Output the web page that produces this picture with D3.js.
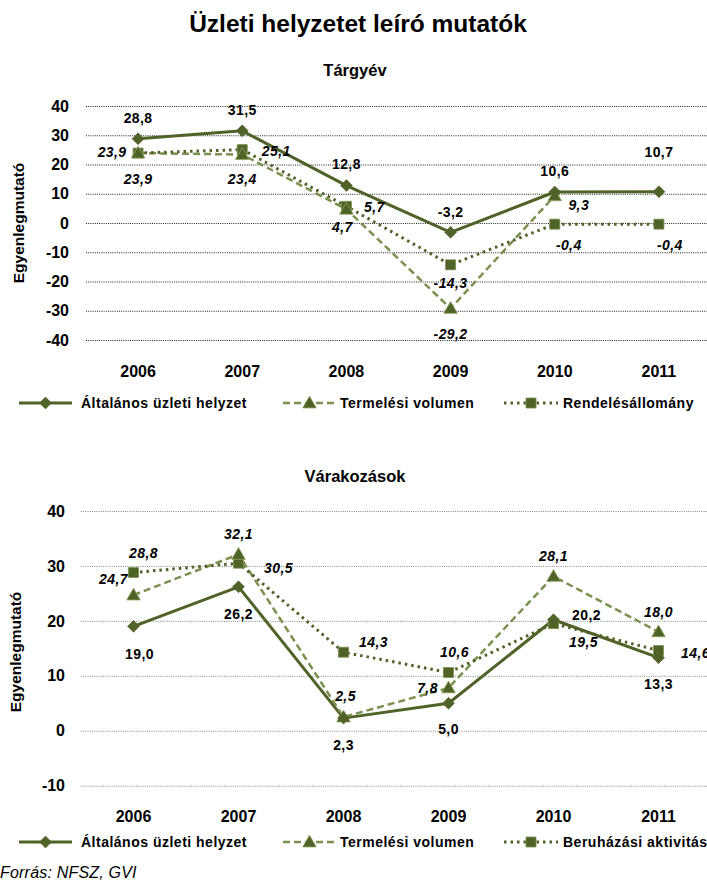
<!DOCTYPE html>
<html><head><meta charset="utf-8">
<script src="https://cdn.jsdelivr.net/npm/d3@7"></script>
<style>
body{margin:0;background:#fff;}
svg{display:block;font-family:"Liberation Sans",Arial,sans-serif;}
</style></head>
<body><svg id="c" width="707" height="881"></svg>
<script>
const years = ["2006","2007","2008","2009","2010","2011"];
const yTicksTop = [40,30,20,10,0,-10,-20,-30,-40];
const yTicksBottom = [40,30,20,10,0,-10];

// Tárgyév
const topGeneral = [28.8, 31.5, 12.8, -3.2, 10.6, 10.7];
const topProduction = [23.9, 23.4, 4.7, -29.2, 9.3, null];
const topOrders = [23.9, 25.1, 5.7, -14.3, -0.4, -0.4];

// Várakozások
const botGeneral = [19.0, 26.2, 2.3, 5.0, 20.2, 13.3];
const botProduction = [24.7, 32.1, 2.5, 7.8, 28.1, 18.0];
const botInvestment = [28.8, 30.5, 14.3, 10.6, 19.5, 14.6];

const seriesNamesTop = ["Általános üzleti helyzet","Termelési volumen","Rendelésállomány"];
const seriesNamesBottom = ["Általános üzleti helyzet","Termelési volumen","Beruházási aktivitás"];

// label offsets (layout only)
const offTop = [
  [[0,-21],[0,-21],[0,-21],[0,-20],[0,-21],[0,-40]],
  [[0,26],[0,25],[-4,18],[0,26],[24,9],[0,0]],
  [[-26,-1],[34,2],[28,1],[0,18],[14,21],[11,21]]
];
const offBot = [
  [[6,28],[0,27],[0,27],[0,26],[33,-5],[0,26]],
  [[-20,-16],[0,-20],[2,-21],[-21,0],[0,-20],[0,-20]],
  [[10,-19],[40,5],[30,-10],[6,-20],[30,18],[37,3]]
];

const DARK = "#4F6228";
const LIGHT = "#7B9150";
const styles = [
  {stroke:DARK, width:3, dash:null, sym:"diamond", italic:false},
  {stroke:LIGHT, width:2.5, dash:"7,4", sym:"triangle", italic:true},
  {stroke:DARK, width:3, dash:"2.5,4", sym:"square", italic:true}
];

const svg = d3.select("#c");
const fmt = v => d3.format(".1f")(v).replace(".", ",").replace("\u2212", "-");
const fmtTick = v => String(v);

function marker(g, type, x, y){
  if(type==="diamond"){
    g.append("path").attr("d", d3.symbol(d3.symbolSquare, 72)())
     .attr("transform",`translate(${x},${y}) rotate(45)`).attr("fill",DARK).attr("stroke",DARK).attr("stroke-width",0.5);
  } else if(type==="square"){
    g.append("path").attr("d", d3.symbol(d3.symbolSquare, 100)())
     .attr("transform",`translate(${x},${y})`).attr("fill",DARK).attr("stroke","#7B9150").attr("stroke-width",0.8);
  } else {
    g.append("path").attr("d", d3.symbol(d3.symbolTriangle, 80)())
     .attr("transform",`translate(${x},${y+1})`).attr("fill",DARK).attr("stroke","#8FA35F").attr("stroke-width",0.8);
  }
}

svg.append("text").attr("x",358).attr("y",32).attr("text-anchor","middle")
  .attr("font-size",24.5).attr("font-weight","bold").text("Üzleti helyzetet leíró mutatók");

function panel(o){
  const g = svg.append("g");
  const x = d3.scaleBand().domain(years).range([o.x0,o.x1]);
  const y = d3.scaleLinear().domain(o.ydom).range(o.yrange);
  g.append("text").attr("x",355).attr("y",o.subY).attr("text-anchor","middle")
   .attr("font-size",16.5).attr("font-weight","bold").text(o.sub);
  // y axis with grid
  const ya = g.append("g").attr("transform",`translate(${o.x0},0)`)
    .call(d3.axisLeft(y).tickValues(o.yticks).tickSize(-(o.x1-o.x0)).tickPadding(o.tickPad).tickFormat(fmtTick));
  ya.select(".domain").remove();
  ya.selectAll("line").attr("stroke",o.gridColor).attr("stroke-width",1).attr("stroke-dasharray","1,1.2");
  ya.selectAll("text").attr("font-size",16).attr("font-weight","bold").attr("fill","#000")
    .attr("font-family","Liberation Sans, Arial, sans-serif");
  // y title
  g.append("text").attr("transform",`translate(${o.titleX},${o.titleY}) rotate(-90)`)
   .attr("text-anchor","middle").attr("font-size",15.5).attr("font-weight","bold").text("Egyenlegmutató");
  // x axis
  const xa = g.append("g").attr("transform",`translate(0,${o.xAxisY})`)
    .call(d3.axisBottom(x).tickSize(0).tickPadding(0));
  xa.select(".domain").remove();
  xa.selectAll("text").attr("font-size",16).attr("font-weight","bold").attr("fill","#000")
    .attr("font-family","Liberation Sans, Arial, sans-serif");
  const cx = d => x(d)+x.bandwidth()/2;
  // series
  o.series.forEach((vals,si)=>{
    const st = styles[si];
    const line = d3.line().defined(d=>d.v!==null).x(d=>cx(d.k)).y(d=>y(d.v));
    const data = years.map((k,i)=>({k,v:vals[i]}));
    g.append("path").datum(data).attr("d",line).attr("fill","none")
     .attr("stroke",st.stroke).attr("stroke-width",st.width)
     .attr("stroke-dasharray",st.dash).attr("stroke-linejoin","round");
  });
  [2,1,0].forEach(si=>{
    const vals=o.series[si];
    years.forEach((k,i)=>{ if(vals[i]!==null) marker(g, styles[si].sym, cx(k), y(vals[i])); });
  });
  // labels
  o.series.forEach((vals,si)=>{
    years.forEach((k,i)=>{
      if(vals[i]===null) return;
      const [dx,dy]=o.offsets[si][i];
      g.append("text").attr("x",cx(k)+dx).attr("y",y(vals[i])+dy).attr("dy","0.35em")
       .attr("text-anchor","middle").attr("font-size",14).attr("font-weight","bold")
       .attr("letter-spacing",0.4)
       .attr("font-style",styles[si].italic?"italic":"normal").text(fmt(vals[i]));
    });
  });
  // legend
  const lx = [[19,72,81],[283,336,340],[504,558,563]];
  o.names.forEach((n,si)=>{
    const st=styles[si]; const [a,b,t]=lx[si];
    g.append("line").attr("x1",a).attr("x2",b).attr("y1",o.legY).attr("y2",o.legY)
     .attr("stroke",st.stroke).attr("stroke-width",st.width).attr("stroke-dasharray",st.dash);
    marker(g, st.sym, (a+b)/2, o.legY);
    g.append("text").attr("x",t).attr("y",o.legY).attr("dy","0.35em").attr("font-size",14)
     .attr("letter-spacing",0.5).attr("font-weight","bold").text(n);
  });
}

panel({x0:86,x1:711,ydom:[-40,40],yrange:[340,106],yticks:yTicksTop,sub:"Tárgyév",subY:76,tickPad:17,
  gridColor:"#222",titleX:24,titleY:223,xAxisY:366,series:[topGeneral,topProduction,topOrders],
  offsets:offTop,names:seriesNamesTop,legY:403});
panel({x0:81,x1:711,ydom:[-10,40],yrange:[785.7,511],yticks:yTicksBottom,sub:"Várakozások",subY:482,tickPad:16,
  gridColor:"#888",titleX:21,titleY:652,xAxisY:811,series:[botGeneral,botProduction,botInvestment],
  offsets:offBot,names:seriesNamesBottom,legY:842});

svg.append("text").attr("x",0).attr("y",878).attr("font-size",16).attr("font-style","italic")
  .attr("letter-spacing",0.2).text("Forrás: NFSZ, GVI");
</script></body></html>
